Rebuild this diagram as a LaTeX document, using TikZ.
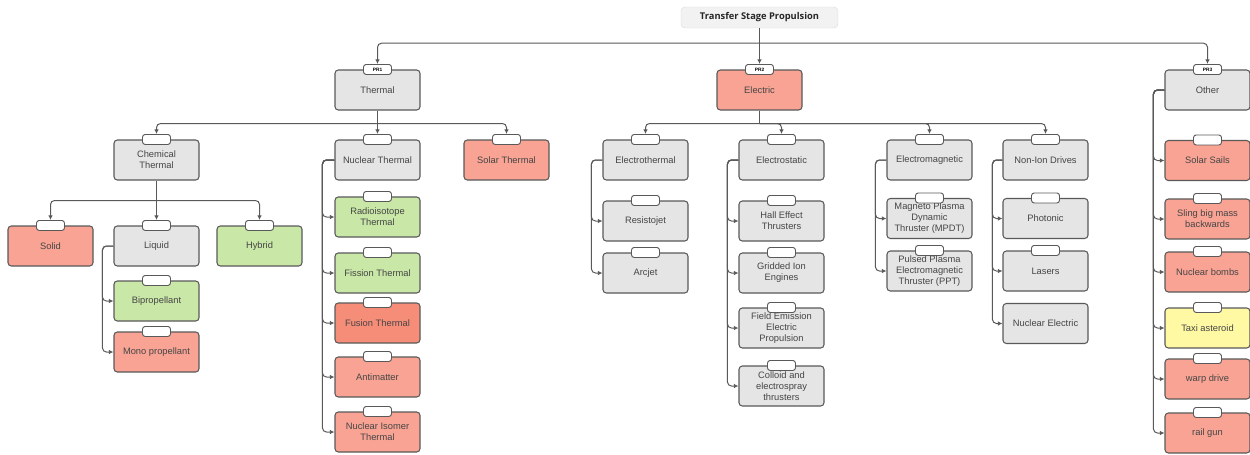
\documentclass[tikz,border=0pt]{standalone}
\usepackage{fontspec}
\setmainfont{Liberation Sans}
\newfontfamily\titlefont{Open Sans}
\usetikzlibrary{arrows.meta}

\definecolor{cardgray}{HTML}{E5E5E5}
\definecolor{cardred}{HTML}{F8A393}
\definecolor{carddeep}{HTML}{F68D79}
\definecolor{cardgreen}{HTML}{C9E7A7}
\definecolor{cardyellow}{HTML}{FFF9A4}
\definecolor{rootfill}{HTML}{F2F2F2}
\definecolor{edgegray}{HTML}{595959}
\definecolor{inkgray}{HTML}{454545}

\tikzset{
  card/.style={draw=edgegray, line width=0.8pt, rounded corners=2.5pt, minimum width=63.75pt, minimum height=30pt, inner sep=1pt, align=center, text=inkgray, font=\fontsize{7}{8.2}\selectfont},
  tag/.style={draw=edgegray, line width=0.7pt, fill=white, rounded corners=2pt, minimum width=21pt, minimum height=7.5pt, inner sep=0pt, text=black, font=\fontsize{3.6}{4}\selectfont\bfseries},
  rootbox/.style={fill=rootfill, draw=rootfill!90!black, line width=0.3pt, rounded corners=3pt, minimum width=117.75pt, minimum height=15.75pt, inner sep=0pt, text=black!85, font=\titlefont\fontsize{7}{8}\selectfont\bfseries},
  wire/.style={draw=edgegray, line width=0.75pt},
  link/.style={wire, rounded corners=3pt, -{Latex[length=3.5pt,width=3.5pt]}},
}

\begin{document}
\begin{tikzpicture}[x=0.75pt,y=0.75pt,yscale=-1,xscale=1]
\useasboundingbox (0,0) rectangle (1250,454);

% Root
\node[rootbox] (root) at (759.5,17.5) {Transfer Stage Propulsion};

% First level
\node[card, fill=cardgray] (thermal) at (377.5,90) {Thermal};
\node[card, fill=cardred] (electric) at (759.5,90) {Electric};
\node[card, fill=cardgray] (other) at (1207.5,90) {Other};

% Thermal branch
\node[card, fill=cardgray] (chem) at (156.5,160) {Chemical\\Thermal};
\node[card, fill=cardgray] (nuct) at (377.5,160) {Nuclear Thermal};
\node[card, fill=cardred] (solart) at (506.5,160) {Solar Thermal};

\node[card, fill=cardred] (solid) at (50.5,246) {Solid};
\node[card, fill=cardgray] (liquid) at (156.5,246) {Liquid};
\node[card, fill=cardgreen] (hybrid) at (259.5,246) {Hybrid};
\node[card, fill=cardgreen] (bip) at (156.5,301) {Bipropellant};
\node[card, fill=cardred] (mono) at (156.5,352) {Mono propellant};

\node[card, fill=cardgreen] (radio) at (377.5,217) {Radioisotope\\Thermal};
\node[card, fill=cardgreen] (fission) at (377.5,273) {Fission Thermal};
\node[card, fill=carddeep] (fusion) at (377.5,323) {Fusion Thermal};
\node[card, fill=cardred] (anti) at (377.5,377) {Antimatter};
\node[card, fill=cardred] (isomer) at (377.5,432) {Nuclear Isomer\\Thermal};

% Electric branch
\node[card, fill=cardgray] (ethermal) at (645.5,160) {Electrothermal};
\node[card, fill=cardgray] (estatic) at (781.5,160) {Electrostatic};
\node[card, fill=cardgray] (emag) at (929.5,160) {Electromagnetic};
\node[card, fill=cardgray] (nonion) at (1045.5,160) {Non-Ion Drives};

\node[card, fill=cardgray] (resisto) at (645.5,221) {Resistojet};
\node[card, fill=cardgray] (arcjet) at (645.5,273) {Arcjet};

\node[card, fill=cardgray] (hall) at (781.5,221) {Hall Effect\\Thrusters};
\node[card, fill=cardgray] (gridded) at (781.5,273) {Gridded Ion\\Engines};
\node[card, fill=cardgray] (fieldem) at (781.5,328) {Field Emission\\Electric\\Propulsion};
\node[card, fill=cardgray] (colloid) at (781.5,386) {Colloid and\\electrospray\\thrusters};

\node[card, fill=cardgray] (mpdt) at (929.5,218.5) {Magneto Plasma\\Dynamic\\Thruster (MPDT)};
\node[card, fill=cardgray] (ppt) at (929.5,271) {Pulsed Plasma\\Electromagnetic\\Thruster (PPT)};

\node[card, fill=cardgray] (photonic) at (1045.5,218.5) {Photonic};
\node[card, fill=cardgray] (lasers) at (1045.5,271) {Lasers};
\node[card, fill=cardgray] (nucelec) at (1045.5,323.5) {Nuclear Electric};

% Other branch
\node[card, fill=cardred] (sails) at (1207.5,160.5) {Solar Sails};
\node[card, fill=cardred] (sling) at (1207.5,219) {Sling big mass\\backwards};
\node[card, fill=cardred] (bombs) at (1207.5,272) {Nuclear bombs};
\node[card, fill=cardyellow] (taxi) at (1207.5,328) {Taxi asteroid};
\node[card, fill=cardred] (warp) at (1207.5,379) {warp drive};
\node[card, fill=cardred] (railgun) at (1207.5,433) {rail gun};

% Tags
\node[tag] (thermal-t) at (thermal.north) {PR1};
\node[tag] (electric-t) at (electric.north) {PR2};
\node[tag] (other-t) at (other.north) {PR3};
\node[tag] (chem-t) at (chem.north) {};
\node[tag] (nuct-t) at (nuct.north) {};
\node[tag] (solart-t) at (solart.north) {};
\node[tag] (solid-t) at (solid.north) {};
\node[tag] (liquid-t) at (liquid.north) {};
\node[tag] (hybrid-t) at (hybrid.north) {};
\node[tag] (bip-t) at (bip.north) {};
\node[tag] (mono-t) at (mono.north) {};
\node[tag] (radio-t) at (radio.north) {};
\node[tag] (fission-t) at (fission.north) {};
\node[tag] (fusion-t) at (fusion.north) {};
\node[tag] (anti-t) at (anti.north) {};
\node[tag] (isomer-t) at (isomer.north) {};
\node[tag] (ethermal-t) at (ethermal.north) {};
\node[tag] (estatic-t) at (estatic.north) {};
\node[tag] (emag-t) at (emag.north) {};
\node[tag] (nonion-t) at (nonion.north) {};
\node[tag] (resisto-t) at (resisto.north) {};
\node[tag] (arcjet-t) at (arcjet.north) {};
\node[tag] (hall-t) at (hall.north) {};
\node[tag] (gridded-t) at (gridded.north) {};
\node[tag] (fieldem-t) at (fieldem.north) {};
\node[tag] (colloid-t) at (colloid.north) {};
\node[tag] (mpdt-t) at (mpdt.north) {};
\node[tag] (ppt-t) at (ppt.north) {};
\node[tag] (photonic-t) at (photonic.north) {};
\node[tag] (lasers-t) at (lasers.north) {};
\node[tag] (sails-t) at (sails.north) {};
\node[tag] (sling-t) at (sling.north) {};
\node[tag] (bombs-t) at (bombs.north) {};
\node[tag] (taxi-t) at (taxi.north) {};
\node[tag] (warp-t) at (warp.north) {};
\node[tag] (railgun-t) at (railgun.north) {};

% Tree connectors
\path (root.south) ++(0,15) coordinate (rootbus);
\draw[link] (root.south) -- (electric-t.north);
\draw[link] (rootbus) -| (thermal-t.north);
\draw[link] (rootbus) -| (other-t.north);

\path (thermal.south) ++(0,13) coordinate (thermalbus);
\draw[link] (thermal.south) -- (nuct-t.north);
\draw[link] (thermalbus) -| (chem-t.north);
\draw[link] (thermalbus) -| (solart-t.north);

\path (chem.south) ++(0,20) coordinate (chembus);
\draw[link] (chem.south) -- (liquid-t.north);
\draw[link] (chembus) -| (solid-t.north);
\draw[link] (chembus) -| (hybrid-t.north);

\path (electric.south) ++(0,13) coordinate (electricbus);
\draw[wire] (electric.south) -- (electricbus);
\draw[link] (electricbus) -| (ethermal-t.north);
\draw[link] (electricbus) -| (estatic-t.north);
\draw[link] (electricbus) -| (emag-t.north);
\draw[link] (electricbus) -| (nonion-t.north);

% Side connectors
\draw[link] (liquid.west) -- ++(-11,0) |- (bip.west);
\draw[link] (liquid.west) -- ++(-11,0) |- (mono.west);

\draw[link] (nuct.west) -- ++(-12,0) |- (radio.west);
\draw[link] (nuct.west) -- ++(-12,0) |- (fission.west);
\draw[link] (nuct.west) -- ++(-12,0) |- (fusion.west);
\draw[link] (nuct.west) -- ++(-12,0) |- (anti.west);
\draw[link] (nuct.west) -- ++(-12,0) |- (isomer.west);

\draw[link] (ethermal.west) -- ++(-11,0) |- (resisto.west);
\draw[link] (ethermal.west) -- ++(-11,0) |- (arcjet.west);

\draw[link] (estatic.west) -- ++(-11,0) |- (hall.west);
\draw[link] (estatic.west) -- ++(-11,0) |- (gridded.west);
\draw[link] (estatic.west) -- ++(-11,0) |- (fieldem.west);
\draw[link] (estatic.west) -- ++(-11,0) |- (colloid.west);

\draw[link] (emag.west) -- ++(-11,0) |- (mpdt.west);
\draw[link] (emag.west) -- ++(-11,0) |- (ppt.west);

\draw[link] (nonion.west) -- ++(-10,0) |- (photonic.west);
\draw[link] (nonion.west) -- ++(-10,0) |- (lasers.west);
\draw[link] (nonion.west) -- ++(-10,0) |- (nucelec.west);

\draw[link] (other.west) -- ++(-11,0) |- (sails.west);
\draw[link] (other.west) -- ++(-11,0) |- (sling.west);
\draw[link] (other.west) -- ++(-11,0) |- (bombs.west);
\draw[link] (other.west) -- ++(-11,0) |- (taxi.west);
\draw[link] (other.west) -- ++(-11,0) |- (warp.west);
\draw[link] (other.west) -- ++(-11,0) |- (railgun.west);

\end{tikzpicture}
\end{document}
